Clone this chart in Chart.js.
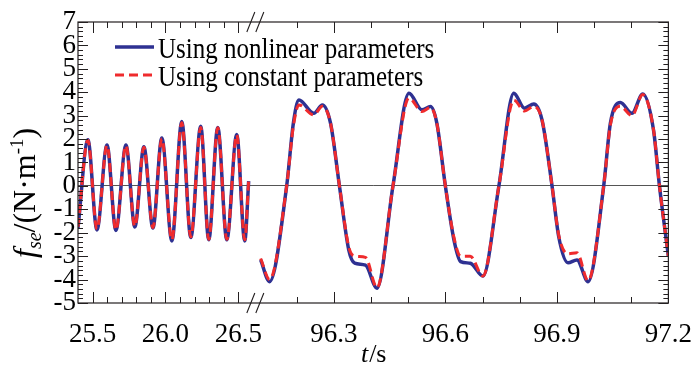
<!DOCTYPE html>
<html>
<head>
<meta charset="utf-8">
<script src="https://cdn.jsdelivr.net/npm/chart.js@4.4.1/dist/chart.umd.min.js"></script>
<style>
  html, body { margin: 0; background: #fff; }
  #wrap { width: 700px; height: 368px; }
</style>
</head>
<body>
<div id="wrap"><canvas id="fseChart"></canvas></div>
<script>
// time (s) and force values
const leftTime      = [25.400, 25.468, 25.530, 25.599, 25.660, 25.729, 25.790, 25.852, 25.914, 25.975,
                       26.044, 26.112, 26.174, 26.242, 26.297, 26.359, 26.421, 26.489, 26.544, 26.571];
const leftNonlinear = [-1.8, 1.97, -1.88, 1.75, -1.9, 1.75, -1.75, 1.67, -1.8, 2.05,
                       -2.35, 2.75, -2.2, 2.55, -2.3, 2.5, -2.3, 2.2, -2.35, 0.2];
const leftConstant  = [-1.75, 1.95, -1.85, 1.73, -1.88, 1.73, -1.73, 1.65, -1.78, 2.02,
                       -2.3, 2.7, -2.18, 2.5, -2.28, 2.48, -2.28, 2.18, -2.3, 0.25];

const rightTime      = [96.103, 96.127, 96.173, 96.191, 96.206, 96.246, 96.269, 96.291, 96.315, 96.340,
                        96.356, 96.385, 96.416, 96.459, 96.502, 96.537, 96.560, 96.577, 96.600, 96.623,
                        96.641, 96.667, 96.701, 96.744, 96.784, 96.813, 96.838, 96.860, 96.887, 96.905,
                        96.930, 96.954, 96.984, 97.026, 97.044, 97.071, 97.102, 97.131, 97.160, 97.176, 97.200];
const rightNonlinear = [-3.16, -4.09, 0, 2.68, 3.67, 3.1, 3.46, 2.68, 0, -2.73,
                        -3.3, -3.38, -4.37, 0, 3.96, 3.25, 3.39, 2.68, 0, -2.3,
                        -3.23, -3.3, -3.85, 0, 3.96, 3.32, 3.5, 2.82, 0, -2.17,
                        -3.28, -3.16, -4.09, 0, 2.68, 3.56, 3.1, 3.93, 2.39, 0, -3.0];
const rightConstant  = [-3.1, -4.0, 0, 2.55, 3.46, 3.03, 3.4, 2.68, 0, -2.6,
                        -3.0, -3.05, -4.35, 0, 3.75, 3.18, 3.35, 2.68, 0, -2.2,
                        -3.0, -3.0, -3.85, 0, 3.67, 3.2, 3.4, 2.82, 0, -2.1,
                        -2.9, -2.85, -4.05, 0, 2.6, 3.4, 3.0, 3.9, 2.4, 0, -3.0];

const xMajorTicks = [25.5, 26.0, 26.5, 96.3, 96.6, 96.9, 97.2];
const xMinorTicks = [25.6, 25.7, 25.8, 25.9, 26.1, 26.2, 26.3, 26.4,
                     96.2, 96.4, 96.5, 96.7, 96.8, 97.0, 97.1];

// broken time axis: left piece at 1:1, right piece stretched
const LEFT_T0 = 25.4, BREAK_T = 26.62, RESUME_T = 96.09, STRETCH = 2.55;
function pos(t) {
  return t < 50 ? t - LEFT_T0 : (BREAK_T - LEFT_T0) + (t - RESUME_T) * STRETCH;
}

function series(ys1, ys2) {
  const pts = leftTime.map((t, i) => ({ x: pos(t), y: ys1[i] }));
  pts.push({ x: pos(BREAK_T), y: null });
  return pts.concat(rightTime.map((t, i) => ({ x: pos(t), y: ys2[i] })));
}

const SERIF = '"Liberation Serif", "Times New Roman", serif';
const BLUE = '#2e3192';
const RED = '#ef2b2d';

Chart.defaults.font.family = SERIF;
Chart.defaults.color = '#000';

const framePlugin = {
  id: 'frame',
  afterDatasetsDraw(chart) {
    const { ctx, chartArea: a, scales } = chart;
    const x = scales.x, y = scales.y;
    ctx.save();
    ctx.strokeStyle = '#231f20';
    ctx.lineWidth = 1.2;
    ctx.strokeRect(a.left, a.top, a.width, a.height);

    ctx.lineWidth = 1;
    ctx.beginPath();
    const xt = (t, len) => {
      const px = Math.round(x.getPixelForValue(pos(t))) + 0.5;
      ctx.moveTo(px, a.bottom); ctx.lineTo(px, a.bottom - len);
      ctx.moveTo(px, a.top); ctx.lineTo(px, a.top + len);
    };
    xMajorTicks.forEach(t => xt(t, 11));
    xMinorTicks.forEach(t => xt(t, 6));
    for (let v = -5; v <= 7.001; v += 0.2) {
      const len = Math.abs(v - Math.round(v)) < 0.01 ? 10 : 5;
      const py = Math.round(y.getPixelForValue(v)) + 0.5;
      ctx.moveTo(a.left, py); ctx.lineTo(a.left + len, py);
      ctx.moveTo(a.right, py); ctx.lineTo(a.right - len, py);
    }
    ctx.stroke();

    // break marks
    const c = x.getPixelForValue(pos(BREAK_T)) - 0.5;
    ctx.lineWidth = 1.1;
    ctx.beginPath();
    [a.bottom, a.top].forEach(b => {
      ctx.moveTo(c - 8.5, b + 10); ctx.lineTo(c - 0.5, b - 10);
      ctx.moveTo(c + 0.5, b + 10); ctx.lineTo(c + 8.5, b - 10);
    });
    ctx.stroke();

    // legend
    ctx.fillStyle = '#000';
    ctx.textBaseline = 'alphabetic';
    const rows = [chart.data.datasets[1], chart.data.datasets[0]];
    rows.forEach((ds, i) => {
      const ly = a.top + 25 + i * 28;
      ctx.save();
      ctx.strokeStyle = ds.borderColor;
      ctx.lineWidth = ds.borderWidth;
      ctx.setLineDash(ds.borderDash || []);
      ctx.beginPath();
      ctx.moveTo(a.left + 37, ly); ctx.lineTo(a.left + 76, ly);
      ctx.stroke();
      ctx.restore();
      ctx.save();
      ctx.translate(a.left + 80, ly + 11);
      ctx.scale(1, 1.15);
      ctx.font = '25px ' + SERIF;
      ctx.fillText(ds.label, 0, 0);
      ctx.restore();
    });
    ctx.restore();
  },
  afterDraw(chart) {
    const { ctx, chartArea: a } = chart;
    ctx.save();
    ctx.fillStyle = '#000';
    ctx.textBaseline = 'alphabetic';

    // x title: t/s
    const big = '26px ' + SERIF, bigIt = 'italic 26px ' + SERIF;
    ctx.font = bigIt; const wt = ctx.measureText('t').width;
    ctx.font = big; const ws = ctx.measureText('/s').width;
    let sx = (a.left + a.right) / 2 - (wt + ws) / 2;
    ctx.font = bigIt; ctx.fillText('t', sx, 362);
    ctx.font = big; ctx.fillText('/s', sx + wt + 1, 362);

    // y title: f_se/(N·m^-1), rotated, reads upward from y = 258
    const parts = [
      { s: 'f', f: 'italic 32px ' + SERIF, dy: 0 },
      { s: 'se', f: 'italic 20px ' + SERIF, dy: 6 },
      { s: '/(N·m', f: '32px ' + SERIF, dy: 0 },
      { s: '-1', f: '19px ' + SERIF, dy: -12 },
      { s: ')', f: '32px ' + SERIF, dy: 0 }
    ];
    parts.forEach(p => { ctx.font = p.f; p.w = ctx.measureText(p.s).width; });
    ctx.translate(35, 258);
    ctx.rotate(-Math.PI / 2);
    let px = 0;
    parts.forEach(p => { ctx.font = p.f; ctx.fillText(p.s, px, p.dy); px += p.w; });
    ctx.restore();
  }
};

const ctx = document.getElementById('fseChart').getContext('2d');
const fseChart = new Chart(ctx, {
  type: 'line',
  data: {
    datasets: [
      {
        label: 'Using constant parameters',
        data: series(leftConstant, rightConstant),
        borderColor: RED,
        borderWidth: 3,
        borderDash: [9, 5],
        order: 1
      },
      {
        label: 'Using nonlinear parameters',
        data: series(leftNonlinear, rightNonlinear),
        borderColor: BLUE,
        borderWidth: 3.5,
        order: 2
      }
    ]
  },
  options: {
    responsive: true,
    maintainAspectRatio: false,
    animation: false,
    devicePixelRatio: 1,
    layout: { padding: { top: 22, right: 30, left: 0, bottom: 0 } },
    elements: {
      point: { radius: 0 },
      line: { cubicInterpolationMode: 'monotone', fill: false }
    },
    scales: {
      x: {
        type: 'linear',
        min: 0,
        max: pos(97.2),
        grid: { display: false },
        border: { display: false },
        afterBuildTicks: scale => {
          scale.ticks = xMajorTicks.map(t => ({ value: pos(t) }));
        },
        afterFit: scale => { scale.height = 65; },
        ticks: {
          autoSkip: false,
          maxRotation: 0,
          padding: 8,
          color: '#000',
          font: { family: SERIF, size: 27 },
          callback: (v, i) => xMajorTicks[i].toFixed(1)
        }
      },
      y: {
        min: -5,
        max: 7,
        border: { display: false },
        grid: {
          drawTicks: false,
          lineWidth: 1,
          color: c => c.tick && c.tick.value === 0 ? '#555' : 'rgba(0,0,0,0)'
        },
        afterFit: scale => { scale.width = 78; },
        ticks: {
          stepSize: 1,
          autoSkip: false,
          padding: 2,
          color: '#000',
          font: { family: SERIF, size: 27 }
        }
      }
    },
    plugins: {
      legend: { display: false },
      tooltip: { enabled: false }
    }
  },
  plugins: [framePlugin]
});
</script>
</body>
</html>
